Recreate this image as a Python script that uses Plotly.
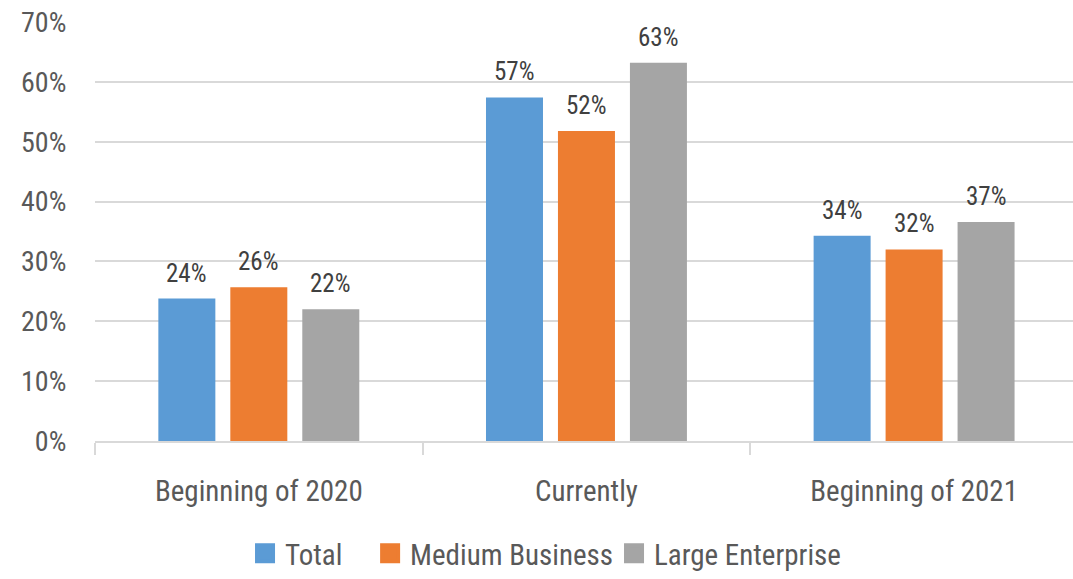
import plotly.graph_objects as go

categories = ["Beginning of 2020", "Currently", "Beginning of 2021"]
series_names = ["Total", "Medium Business", "Large Enterprise"]
total = [0.238, 0.574, 0.343]
medium = [0.257, 0.518, 0.320]
large = [0.220, 0.632, 0.366]
labels_total = ["24%", "57%", "34%"]
labels_medium = ["26%", "52%", "32%"]
labels_large = ["22%", "63%", "37%"]
y_ticks = [0, 0.1, 0.2, 0.3, 0.4, 0.5, 0.6, 0.7]
y_tick_labels = ["0%", "10%", "20%", "30%", "40%", "50%", "60%", "70%"]

colors = ["#5B9BD5", "#ED7D31", "#A5A5A5"]
FONT = "Liberation Sans Narrow, Roboto Condensed, DejaVu Sans Condensed, Arial Narrow, sans-serif"
bar_offsets_px = [-72, 0, 72]
legend_ids = ["legend", "legend2", "legend3"]
legend_x = [0.1534, 0.2813, 0.5307]

fig = go.Figure()
for name, vals, labs, c, off, lid in zip(series_names, [total, medium, large],
                                         [labels_total, labels_medium, labels_large], colors,
                                         bar_offsets_px, legend_ids):
    fig.add_trace(go.Bar(
        x=categories, y=vals, name=name, marker_color=c, marker_line_width=0,
        showlegend=False,
    ))
    # legend proxy with bigger square marker
    fig.add_trace(go.Scatter(
        x=[None], y=[None], mode="markers", name=name, legend=lid,
        marker=dict(symbol="square", size=16, color=c, line=dict(color=c, width=4)),
        showlegend=True,
    ))
    for cat, v, lab in zip(categories, vals, labs):
        fig.add_annotation(x=cat, y=v, xref="x", yref="y", text=lab, showarrow=False,
                           xshift=off, yshift=9, yanchor="bottom",
                           font=dict(size=25, color="#404040", family=FONT))

legend_common = dict(orientation="h", xanchor="left", y=-0.27, yanchor="middle",
                     font=dict(size=29, color="#595959", family=FONT),
                     bgcolor="rgba(0,0,0,0)", itemwidth=30)

fig.update_layout(
    width=1073, height=579,
    margin=dict(l=95, r=0, t=22, b=134),
    paper_bgcolor="white", plot_bgcolor="white",
    barmode="group", bargap=0.341, bargroupgap=0.208,
    font=dict(family=FONT, color="#595959", size=29),
    showlegend=True,
    legend=dict(x=legend_x[0], **legend_common),
    legend2=dict(x=legend_x[1], **legend_common),
    legend3=dict(x=legend_x[2], **legend_common),
    xaxis=dict(range=[-0.5, 2.485], tickson="boundaries", ticks="outside", ticklen=12,
               tickcolor="#D9D9D9", tickwidth=2, showline=True, linecolor="#D9D9D9", linewidth=2,
               tickfont=dict(size=29, color="#595959", family=FONT), showgrid=False,
               automargin=False, ticklabelstandoff=23),
    yaxis=dict(range=[0, 0.7001], tickvals=y_ticks, ticktext=y_tick_labels,
               showgrid=True, gridcolor="#D9D9D9", gridwidth=2, zeroline=False,
               ticks="outside", ticklen=22, tickcolor="rgba(0,0,0,0)",
               ticklabeloverflow="allow",
               tickfont=dict(size=28, color="#595959", family=FONT), automargin=False),
)

fig.write_html(
    "out.html",
    config={"displayModeBar": False},
    post_script="document.body.style.margin='0';document.body.style.overflow='hidden';",
)
